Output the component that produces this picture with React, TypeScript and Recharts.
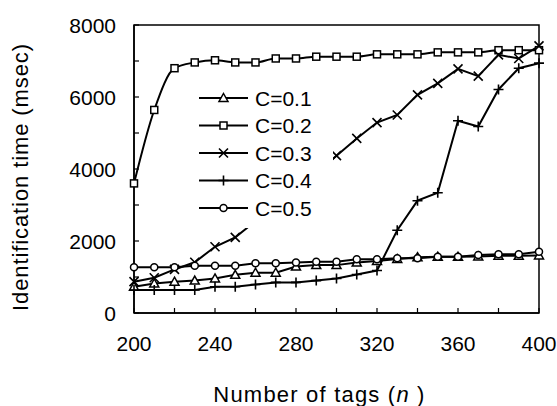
import React from "react";
import {
  Legend,
  Line,
  LineChart,
  ReferenceArea,
  XAxis,
  YAxis,
} from "recharts";

const tags = [200, 210, 220, 230, 240, 250, 260, 270, 280, 290, 300, 310, 320, 330, 340, 350, 360, 370, 380, 390, 400];

const c01 = [730, 820, 870, 900, 960, 1060, 1120, 1120, 1290, 1330, 1330, 1400, 1445, 1500, 1550, 1565, 1560, 1570, 1590, 1590, 1600];
const c02 = [3600, 5640, 6800, 6960, 7020, 6960, 6960, 7070, 7070, 7120, 7120, 7120, 7185, 7185, 7185, 7240, 7240, 7240, 7300, 7300, 7300];
const c03 = [870, 980, 1210, 1410, 1840, 2100, 2550, 3000, 3450, 3900, 4370, 4850, 5290, 5500, 6060, 6380, 6780, 6580, 7170, 7070, 7420];
const c04 = [640, 640, 640, 640, 730, 730, 790, 850, 850, 900, 960, 1070, 1180, 2300, 3120, 3340, 5340, 5180, 6210, 6800, 6940];
const c05 = [1270, 1270, 1270, 1315, 1315, 1315, 1380, 1380, 1400, 1425, 1425, 1490, 1490, 1520, 1520, 1565, 1565, 1610, 1630, 1630, 1700];

const xTicks = [200, 220, 240, 260, 280, 300, 320, 340, 360, 380, 400];
const yTicks = [0, 1000, 2000, 3000, 4000, 5000, 6000, 7000, 8000];

const data = tags.map((n, i) => ({
  n,
  c01: c01[i],
  c02: c02[i],
  c03: c03[i],
  c04: c04[i],
  c05: c05[i],
}));

type Shape = "triangle" | "square" | "cross" | "plus" | "circle";

const series: { key: string; name: string; shape: Shape; smooth?: boolean }[] = [
  { key: "c01", name: "C=0.1", shape: "triangle" },
  { key: "c02", name: "C=0.2", shape: "square", smooth: true },
  { key: "c03", name: "C=0.3", shape: "cross" },
  { key: "c04", name: "C=0.4", shape: "plus" },
  { key: "c05", name: "C=0.5", shape: "circle" },
];

const FONT = "'Liberation Sans', Arial, sans-serif";

function Marker({ shape, cx, cy }: { shape: Shape; cx: number; cy: number }) {
  const s = { stroke: "#000", strokeWidth: 1.5, fill: "#fff" };
  if (shape === "triangle")
    return <polygon points={`${cx},${cy - 4.5} ${cx + 4.5},${cy + 3.5} ${cx - 4.5},${cy + 3.5}`} {...s} />;
  if (shape === "square") return <rect x={cx - 3.5} y={cy - 3.5} width={7} height={7} {...s} />;
  if (shape === "circle") return <circle cx={cx} cy={cy} r={3.5} {...s} />;
  if (shape === "cross")
    return (
      <path d={`M${cx - 4.5},${cy - 4.5}L${cx + 4.5},${cy + 4.5}M${cx - 4.5},${cy + 4.5}L${cx + 4.5},${cy - 4.5}`} stroke="#000" strokeWidth={1.6} />
    );
  return <path d={`M${cx - 5},${cy}L${cx + 5},${cy}M${cx},${cy - 5}L${cx},${cy + 5}`} stroke="#000" strokeWidth={1.6} />;
}

const makeDot = (shape: Shape) => (props: any) => {
  const { cx, cy, index } = props;
  if (cx == null || cy == null) return <g key={index} />;
  return <Marker key={index} shape={shape} cx={cx} cy={cy} />;
};

const YTick = ({ x, y, payload }: any) => (
  <g>
    <line x1={x} x2={x + 5} y1={y} y2={y} stroke="#000" strokeWidth={1.2} />
    {payload.value % 2000 === 0 && (
      <text x={x - 18} y={y} dy={7.5} textAnchor="end" fontSize={21} fontFamily={FONT} fill="#000">
        {payload.value}
      </text>
    )}
  </g>
);

const XTick = ({ x, y, payload }: any) => (
  <g>
    <line x1={x} x2={x} y1={y} y2={y - 5} stroke="#000" strokeWidth={1.2} />
    {payload.value % 40 === 0 && (
      <text x={x} y={y} dy={38} textAnchor="middle" fontSize={21} fontFamily={FONT} fill="#000">
        {payload.value}
      </text>
    )}
  </g>
);

const XLabel = ({ viewBox }: any) => (
  <text
    x={viewBox.x + viewBox.width / 2 - 17}
    y={viewBox.y + 89}
    textAnchor="middle"
    fontSize={22}
    letterSpacing={1.2}
    fontFamily={FONT}
    fill="#000"
  >
    Number of tags (<tspan fontStyle="italic">n</tspan> )
  </text>
);

const YLabel = ({ viewBox }: any) => {
  const cx = viewBox.x + 28;
  const cy = viewBox.y + viewBox.height / 2 + 8;
  return (
    <text
      x={cx}
      y={cy}
      transform={`rotate(-90 ${cx} ${cy})`}
      textAnchor="middle"
      fontSize={22}
      letterSpacing={0.9}
      fontFamily={FONT}
      fill="#000"
    >
      Identification time (msec)
    </text>
  );
};

const LegendBox = () => (
  <svg width={143} height={148}>
    {series.map((s, i) => {
      const y = 18 + i * 27.5;
      return (
        <g key={s.key}>
          <line x1={9} x2={58} y1={y} y2={y} stroke="#000" strokeWidth={2} />
          <Marker shape={s.shape} cx={33.5} cy={y} />
          <text x={65} y={y} dy={7.5} fontSize={21} fontFamily={FONT} fill="#000">
            {s.name}
          </text>
        </g>
      );
    })}
  </svg>
);

export default function App() {
  return (
    <div style={{ width: 557, height: 406, background: "#fff" }}>
      <style>{"body{margin:0}"}</style>
      <LineChart
        width={557}
        height={406}
        data={data}
        margin={{ top: 25, right: 18, left: 0, bottom: 0 }}
      >
        <XAxis
          dataKey="n"
          type="number"
          domain={[200, 400]}
          ticks={xTicks}
          height={93}
          axisLine={{ stroke: "#000", strokeWidth: 1.5 }}
          tickLine={false}
          tickSize={0}
          tickMargin={0}
          tick={<XTick />}
          interval={0}
          label={<XLabel />}
        />
        <YAxis
          type="number"
          domain={[0, 8000]}
          ticks={yTicks}
          width={134}
          axisLine={{ stroke: "#000", strokeWidth: 1.5 }}
          tickLine={false}
          tickSize={0}
          tickMargin={0}
          tick={<YTick />}
          interval={0}
          label={<YLabel />}
        />
        <ReferenceArea x1={200} x2={400} y1={0} y2={8000} fill="none" stroke="#000" strokeWidth={1.5} />
        {series.map((s) => (
          <Line
            key={s.key}
            dataKey={s.key}
            name={s.name}
            type={s.smooth ? "monotone" : "linear"}
            stroke="#000"
            strokeWidth={2}
            dot={makeDot(s.shape)}
            activeDot={false}
            isAnimationActive={false}
          />
        ))}
        <Legend
          layout="vertical"
          align="center"
          verticalAlign="middle"
          content={<LegendBox />}
          wrapperStyle={{ left: 190, top: 80, width: 143, height: 148, background: "#fff" }}
        />
      </LineChart>
    </div>
  );
}
